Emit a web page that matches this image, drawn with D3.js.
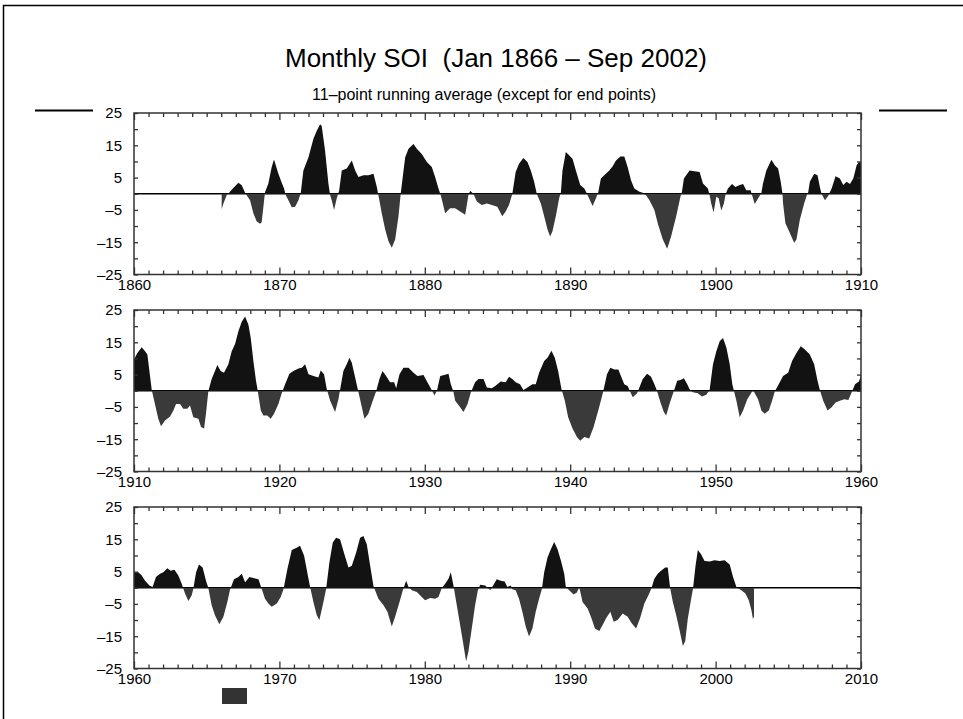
<!DOCTYPE html>
<html>
<head>
<meta charset="utf-8">
<script src="https://cdn.jsdelivr.net/npm/d3@7"></script>
<style>
  body { margin: 0; background: #fff; }
  svg { display: block; }
</style>
</head>
<body>
<div id="chart"></div>
<script>
// monthly SOI, 11-point running average as [year, value]
const soi1866to1910 = [
  [1866.03,-4.8],[1866.15,-3.0],[1866.38,-0.4],[1866.54,0.3],[1866.83,1.8],[1867.18,3.4],[1867.41,2.6],
  [1867.64,0.3],[1867.75,-0.5],[1867.98,-2.0],[1868.21,-6.0],[1868.44,-8.6],[1868.67,-9.3],[1868.78,-8.8],
  [1868.90,-4.0],[1869.01,0.5],[1869.24,3.2],[1869.47,8.3],[1869.63,10.6],[1869.93,6.2],[1870.16,3.4],
  [1870.32,1.6],[1870.44,-0.5],[1870.62,-2.0],[1870.85,-4.2],[1871.08,-4.0],[1871.31,-2.0],[1871.47,0.3],
  [1871.65,7.2],[1872.00,11.3],[1872.34,17.0],[1872.57,19.5],[1872.80,21.5],[1872.91,21.0],[1873.14,13.4],
  [1873.37,3.2],[1873.49,-0.5],[1873.60,-2.0],[1873.76,-5.0],[1873.94,-1.5],[1874.11,1.0],[1874.29,7.2],
  [1874.63,7.8],[1874.98,10.3],[1875.21,7.2],[1875.44,5.2],[1875.78,5.7],[1876.12,5.7],[1876.47,6.2],
  [1876.70,2.1],[1876.81,-0.5],[1877.04,-6.0],[1877.27,-11.0],[1877.50,-14.7],[1877.73,-16.7],[1877.96,-14.2],
  [1878.19,-7.0],[1878.35,0.3],[1878.65,11.3],[1878.88,13.9],[1879.22,15.4],[1879.45,13.9],[1879.79,12.3],
  [1880.14,9.8],[1880.48,8.3],[1880.71,5.2],[1880.94,1.6],[1881.10,-0.5],[1881.40,-6.0],[1881.74,-4.5],
  [1882.09,-4.5],[1882.43,-5.5],[1882.78,-6.5],[1883.00,-0.4],[1883.12,0.9],[1883.35,-0.1],[1883.58,-2.4],
  [1883.92,-3.5],[1884.27,-3.0],[1884.61,-3.5],[1884.99,-4.0],[1885.33,-7.0],[1885.56,-5.5],[1885.79,-3.5],
  [1886.02,0.0],[1886.25,6.7],[1886.48,9.3],[1886.78,11.1],[1887.06,9.8],[1887.29,7.2],[1887.52,3.7],
  [1887.70,0.0],[1887.98,-3.0],[1888.21,-7.0],[1888.44,-11.1],[1888.62,-13.2],[1888.78,-11.6],[1889.01,-7.0],
  [1889.24,-1.4],[1889.36,0.5],[1889.47,7.2],[1889.70,12.9],[1889.82,12.4],[1890.16,10.8],[1890.39,7.2],
  [1890.69,2.7],[1890.97,1.6],[1891.15,0.1],[1891.20,-0.5],[1891.54,-3.8],[1891.77,-1.4],[1891.93,0.5],
  [1892.11,4.7],[1892.34,5.7],[1892.69,7.2],[1892.92,8.5],[1893.15,10.3],[1893.45,11.5],[1893.72,11.5],
  [1893.95,8.3],[1894.18,4.2],[1894.41,1.6],[1894.76,0.6],[1894.99,0.3],[1895.22,-0.5],[1895.45,-2.0],
  [1895.79,-5.0],[1896.02,-9.1],[1896.37,-14.2],[1896.67,-17.0],[1896.94,-13.2],[1897.29,-7.0],[1897.59,-0.8],
  [1897.68,0.5],[1897.82,4.7],[1898.21,7.2],[1898.55,7.0],[1898.90,6.7],[1899.13,3.2],[1899.47,1.6],
  [1899.59,-0.5],[1899.70,-3.0],[1899.86,-5.8],[1900.05,-0.9],[1900.21,-1.4],[1900.39,-5.2],[1900.57,-3.0],
  [1900.69,-0.1],[1900.85,1.6],[1901.13,3.0],[1901.36,2.1],[1901.66,2.7],[1901.89,3.0],[1902.11,1.1],
  [1902.41,1.1],[1902.51,-0.5],[1902.69,-3.2],[1902.97,-1.1],[1903.15,0.3],[1903.26,3.2],[1903.49,7.2],
  [1903.84,10.5],[1904.07,8.8],[1904.30,7.8],[1904.48,3.7],[1904.60,0.0],[1904.64,-3.0],[1904.80,-9.1],
  [1905.10,-12.1],[1905.40,-15.2],[1905.56,-14.2],[1905.79,-8.1],[1906.09,-3.0],[1906.30,-0.1],[1906.37,0.5],
  [1906.48,3.7],[1906.78,6.2],[1907.01,5.7],[1907.17,2.1],[1907.29,-0.1],[1907.52,-2.0],[1907.75,-0.6],
  [1907.98,1.6],[1908.25,5.4],[1908.55,4.7],[1908.78,2.7],[1909.01,3.7],[1909.24,3.0],[1909.47,4.7],
  [1909.70,8.8],[1909.86,9.8]
];

const soi1910to1960 = [
  [1910.00,9.7],[1910.23,11.7],[1910.53,13.5],[1910.76,12.2],[1910.92,11.2],[1911.06,6.1],[1911.22,0.2],
  [1911.44,-4.1],[1911.67,-8.7],[1911.86,-11.0],[1912.13,-9.2],[1912.48,-8.0],[1912.71,-6.1],[1912.89,-4.1],
  [1913.17,-4.1],[1913.39,-5.6],[1913.67,-5.6],[1913.85,-4.6],[1914.08,-8.2],[1914.43,-8.7],[1914.61,-11.2],
  [1914.82,-11.7],[1914.95,-7.1],[1915.11,-0.2],[1915.34,3.6],[1915.57,6.1],[1915.73,8.0],[1915.96,6.1],
  [1916.19,5.6],[1916.49,8.2],[1916.72,12.2],[1916.95,14.5],[1917.18,18.4],[1917.41,21.4],[1917.64,23.0],
  [1917.87,20.4],[1918.03,16.3],[1918.21,9.2],[1918.39,3.1],[1918.51,0.0],[1918.72,-6.1],[1918.90,-7.7],
  [1919.17,-7.7],[1919.40,-8.7],[1919.63,-7.1],[1919.93,-4.1],[1920.16,-0.8],[1920.39,2.0],[1920.69,5.3],
  [1920.96,6.1],[1921.31,6.9],[1921.54,7.1],[1921.77,8.2],[1922.00,5.1],[1922.34,4.6],[1922.68,4.1],
  [1922.84,6.3],[1923.07,5.1],[1923.26,0.5],[1923.49,-3.1],[1923.83,-6.6],[1924.06,-2.6],[1924.40,6.1],
  [1924.63,8.2],[1924.82,10.2],[1924.98,8.7],[1925.21,4.1],[1925.39,0.5],[1925.67,-5.1],[1925.85,-8.7],
  [1926.12,-7.1],[1926.42,-3.1],[1926.65,-0.2],[1926.88,3.6],[1927.09,6.1],[1927.34,4.6],[1927.61,2.6],
  [1927.89,2.6],[1928.03,0.8],[1928.26,5.1],[1928.53,7.1],[1928.88,7.1],[1929.22,5.6],[1929.50,4.6],
  [1929.91,4.9],[1930.18,2.6],[1930.41,0.8],[1930.67,-1.5],[1930.85,0.3],[1931.06,4.6],[1931.28,4.8],
  [1931.63,5.3],[1931.79,2.0],[1931.97,-0.3],[1932.09,-3.1],[1932.43,-5.1],[1932.66,-6.6],[1932.94,-4.1],
  [1933.17,-0.5],[1933.46,2.6],[1933.69,3.6],[1934.04,3.6],[1934.27,1.0],[1934.61,0.8],[1934.84,1.5],
  [1934.99,2.0],[1935.22,2.9],[1935.56,2.6],[1935.79,4.3],[1936.02,3.6],[1936.25,2.6],[1936.55,2.0],
  [1936.78,0.2],[1937.06,1.0],[1937.40,2.0],[1937.63,2.0],[1937.86,5.6],[1938.21,9.2],[1938.44,10.2],
  [1938.71,12.4],[1938.94,10.2],[1939.17,6.1],[1939.40,0.5],[1939.63,-3.1],[1939.86,-8.2],[1940.16,-11.7],
  [1940.46,-14.3],[1940.69,-15.5],[1940.97,-14.3],[1941.31,-14.8],[1941.61,-11.2],[1941.93,-6.1],[1942.23,-1.0],
  [1942.53,5.1],[1942.76,7.1],[1943.03,6.6],[1943.31,6.6],[1943.49,4.6],[1943.72,2.0],[1943.95,1.5],
  [1944.30,-2.0],[1944.60,-0.8],[1944.99,3.6],[1945.29,5.3],[1945.56,4.3],[1945.79,2.0],[1945.95,0.2],
  [1946.21,-3.6],[1946.44,-6.6],[1946.60,-7.7],[1946.83,-4.1],[1947.10,-0.5],[1947.36,3.1],[1947.59,3.3],
  [1947.82,3.9],[1948.05,2.0],[1948.21,0.5],[1948.44,-0.5],[1948.78,-0.8],[1949.06,-1.8],[1949.36,-1.2],
  [1949.59,0.3],[1949.82,8.2],[1950.05,12.2],[1950.28,15.3],[1950.51,16.3],[1950.74,13.4],[1950.97,8.2],
  [1951.15,2.0],[1951.43,-3.1],[1951.66,-8.2],[1951.89,-6.1],[1952.18,-2.6],[1952.51,-0.2],[1952.57,0.2],
  [1952.92,-2.6],[1953.15,-6.1],[1953.38,-7.1],[1953.66,-6.1],[1953.89,-3.0],[1954.07,-0.2],[1954.34,2.0],
  [1954.64,4.6],[1954.99,5.6],[1955.26,9.2],[1955.56,11.7],[1955.86,13.8],[1956.14,12.8],[1956.48,11.2],
  [1956.78,8.2],[1957.01,3.1],[1957.17,0.2],[1957.40,-3.1],[1957.70,-6.1],[1957.98,-5.1],[1958.25,-3.6],
  [1958.55,-3.1],[1958.85,-2.6],[1959.13,-2.9],[1959.31,-1.0],[1959.59,2.0],[1959.86,2.9]
];

const soi1960to2002 = [
  [1960.00,4.8],[1960.30,4.8],[1960.53,3.8],[1960.76,2.2],[1961.06,0.7],[1961.28,0.2],[1961.51,3.3],
  [1961.79,4.3],[1962.02,4.8],[1962.29,6.0],[1962.52,5.3],[1962.78,5.6],[1963.05,3.8],[1963.28,1.2],
  [1963.51,-1.8],[1963.74,-4.1],[1963.97,-2.3],[1964.08,-0.3],[1964.27,4.8],[1964.47,7.2],[1964.72,6.3],
  [1964.95,2.2],[1965.11,0.0],[1965.34,-5.4],[1965.57,-8.5],[1965.87,-11.3],[1966.15,-9.0],[1966.42,-4.4],
  [1966.61,-0.5],[1966.88,2.6],[1967.18,3.3],[1967.41,4.3],[1967.64,1.7],[1967.94,3.3],[1968.21,3.0],
  [1968.56,2.6],[1968.74,0.2],[1969.01,-3.4],[1969.24,-4.9],[1969.47,-5.9],[1969.82,-4.9],[1970.09,-2.9],
  [1970.28,-0.5],[1970.55,5.8],[1970.85,11.7],[1971.19,12.4],[1971.42,13.0],[1971.70,9.9],[1972.00,2.8],
  [1972.11,0.2],[1972.34,-4.4],[1972.57,-8.5],[1972.75,-10.0],[1972.98,-5.4],[1973.21,-0.5],[1973.44,7.9],
  [1973.67,14.0],[1973.90,15.5],[1974.17,15.0],[1974.47,10.4],[1974.75,6.3],[1974.98,6.8],[1975.28,10.9],
  [1975.55,15.5],[1975.78,16.0],[1976.01,13.5],[1976.24,6.9],[1976.47,0.5],[1976.81,-3.4],[1977.16,-5.4],
  [1977.43,-7.4],[1977.73,-12.0],[1977.96,-9.0],[1978.26,-4.4],[1978.49,-0.8],[1978.72,2.2],[1978.88,0.2],
  [1979.11,-0.8],[1979.45,-1.3],[1979.79,-2.9],[1980.02,-3.9],[1980.37,-3.2],[1980.71,-3.4],[1980.94,-2.9],
  [1981.17,-0.1],[1981.40,1.2],[1981.63,2.8],[1981.79,4.8],[1981.97,0.7],[1982.20,-5.4],[1982.43,-11.5],
  [1982.66,-17.7],[1982.84,-22.8],[1983.00,-19.7],[1983.23,-12.6],[1983.46,-5.4],[1983.65,-0.8],[1983.81,0.9],
  [1984.15,0.7],[1984.50,-0.8],[1984.95,2.6],[1985.22,2.2],[1985.49,1.9],[1985.68,0.2],[1985.91,0.7],
  [1986.02,-0.5],[1986.25,-0.8],[1986.48,-3.4],[1986.71,-7.4],[1986.94,-12.0],[1987.17,-15.1],[1987.40,-12.6],
  [1987.63,-7.4],[1987.86,-3.4],[1988.05,-0.5],[1988.21,4.8],[1988.44,9.4],[1988.67,11.9],[1988.90,14.2],
  [1989.13,11.9],[1989.36,8.4],[1989.59,4.3],[1989.70,0.2],[1989.93,-0.8],[1990.23,-2.1],[1990.46,-1.5],
  [1990.62,0.2],[1990.85,-4.4],[1991.20,-6.4],[1991.47,-9.5],[1991.70,-12.6],[1992.00,-13.4],[1992.23,-11.5],
  [1992.46,-9.5],[1992.76,-7.4],[1992.99,-10.5],[1993.26,-10.0],[1993.61,-8.0],[1993.95,-9.0],[1994.23,-11.0],
  [1994.53,-12.6],[1994.80,-9.5],[1995.10,-4.9],[1995.38,-2.3],[1995.56,-0.5],[1995.79,2.8],[1996.02,4.3],
  [1996.25,5.3],[1996.53,6.3],[1996.71,6.3],[1996.87,0.0],[1997.06,-4.4],[1997.29,-8.5],[1997.52,-13.1],
  [1997.75,-18.0],[1997.91,-16.6],[1998.09,-9.5],[1998.32,-3.4],[1998.44,-0.5],[1998.62,6.8],[1998.78,11.7],
  [1999.01,10.3],[1999.24,8.3],[1999.59,8.1],[1999.93,8.5],[2000.28,8.3],[2000.62,8.5],[2000.97,7.2],
  [2001.20,3.3],[2001.43,0.2],[2001.77,-0.8],[2002.05,-1.8],[2002.28,-3.9],[2002.46,-6.9],[2002.57,-9.7],
  [2002.64,-9.0]
];

// one panel per half century
const panelStarts = [1860, 1910, 1960];
const yTickValues = [-25, -20, -15, -10, -5, 0, 5, 10, 15, 20, 25];

const titleText = "Monthly SOI\u00a0\u00a0(Jan 1866 \u2013 Sep 2002)";
const subtitleText = "11\u2013point running average (except for end points)";

const soi = soi1866to1910.concat(soi1910to1960, soi1960to2002);

const width = 963, height = 719;
const plotLeft = 134, plotRight = 861, plotH = 161.5, firstTop = 113, panelStep = 197;
const font = "'Liberation Sans', Arial, Helvetica, sans-serif";

const svg = d3.select("#chart").append("svg")
  .attr("width", width)
  .attr("height", height);

// page frame (left and top edges only are visible)
svg.append("path")
  .attr("d", `M3.5,${height} V5.5 H${width}`)
  .attr("fill", "none")
  .attr("stroke", "#000")
  .attr("stroke-width", 1.5);

svg.append("text")
  .attr("x", 496).attr("y", 67)
  .attr("text-anchor", "middle")
  .attr("font-family", font)
  .attr("font-size", 26)
  .text(titleText);

svg.append("text")
  .attr("x", 484).attr("y", 100)
  .attr("text-anchor", "middle")
  .attr("font-family", font)
  .attr("font-size", 16)
  .text(subtitleText);

// the two stray rules at the top of the first panel
svg.append("line").attr("x1", 35).attr("x2", 93).attr("y1", 110.5).attr("y2", 110.5)
  .attr("stroke", "#000").attr("stroke-width", 2);
svg.append("line").attr("x1", 879).attr("x2", 947).attr("y1", 110.5).attr("y2", 110.5)
  .attr("stroke", "#000").attr("stroke-width", 2);

const fmtY = d => (d % 10 !== 0) ? (d < 0 ? "\u2013" + (-d) : String(d)) : "";

panelStarts.forEach((start, i) => {
  const top = firstTop + i * panelStep;
  const bottom = top + plotH;
  const x = d3.scaleLinear().domain([start, start + 50]).range([plotLeft, plotRight]);
  const y = d3.scaleLinear().domain([-25, 25]).range([bottom, top]);

  const g = svg.append("g");
  const defs = g.append("defs");
  defs.append("clipPath").attr("id", "pos" + i)
    .append("rect")
    .attr("x", plotLeft).attr("y", top)
    .attr("width", plotRight - plotLeft).attr("height", y(0) - top);
  defs.append("clipPath").attr("id", "neg" + i)
    .append("rect")
    .attr("x", plotLeft).attr("y", y(0))
    .attr("width", plotRight - plotLeft).attr("height", bottom - y(0));

  // zero line across the whole panel
  g.append("line")
    .attr("x1", plotLeft).attr("x2", plotRight)
    .attr("y1", y(0)).attr("y2", y(0))
    .attr("stroke", "#000").attr("stroke-width", 1.5);

  const area = d3.area()
    .x(d => x(d[0]))
    .y0(y(0))
    .y1(d => y(d[1]));

  g.append("path")
    .datum(soi)
    .attr("clip-path", `url(#pos${i})`)
    .attr("fill", "#121212")
    .attr("d", area);
  g.append("path")
    .datum(soi)
    .attr("clip-path", `url(#neg${i})`)
    .attr("fill", "#3a3a3a")
    .attr("d", area);

  // frame
  g.append("rect")
    .attr("x", plotLeft).attr("y", top)
    .attr("width", plotRight - plotLeft).attr("height", plotH)
    .attr("fill", "none")
    .attr("stroke", "#333")
    .attr("stroke-width", 1.5);

  const decades = d3.range(start, start + 51, 10);
  const years = d3.range(start, start + 51, 1).filter(v => (v - start) % 10 !== 0);

  // minor (yearly) ticks, top and bottom, inward
  g.append("g").attr("transform", `translate(0,${bottom})`)
    .call(d3.axisBottom(x).tickValues(years).tickSize(-4).tickFormat(""));
  g.append("g").attr("transform", `translate(0,${top})`)
    .call(d3.axisTop(x).tickValues(years).tickSize(-4).tickFormat(""));
  // decade ticks with labels
  g.append("g").attr("transform", `translate(0,${bottom})`)
    .call(d3.axisBottom(x).tickValues(decades).tickSize(-7).tickPadding(5).tickFormat(d3.format("d")));
  g.append("g").attr("transform", `translate(0,${top})`)
    .call(d3.axisTop(x).tickValues(decades).tickSize(-7).tickFormat(""));

  g.append("g").attr("transform", `translate(${plotLeft},0)`)
    .call(d3.axisLeft(y).tickValues(yTickValues).tickSize(-4).tickPadding(12).tickFormat(fmtY));
  g.append("g").attr("transform", `translate(${plotRight},0)`)
    .call(d3.axisRight(y).tickValues(yTickValues).tickSize(-4).tickFormat(""));

  g.selectAll(".domain").remove();
  g.selectAll(".tick line").attr("stroke", "#333").attr("stroke-width", 1.3);
  g.selectAll(".tick text")
    .attr("font-family", font)
    .attr("font-size", 15)
    .attr("fill", "#000");
});

// small dark legend swatch under the last panel
svg.append("rect")
  .attr("x", 222).attr("y", 688)
  .attr("width", 25).attr("height", 16)
  .attr("fill", "#333");
</script>
</body>
</html>
